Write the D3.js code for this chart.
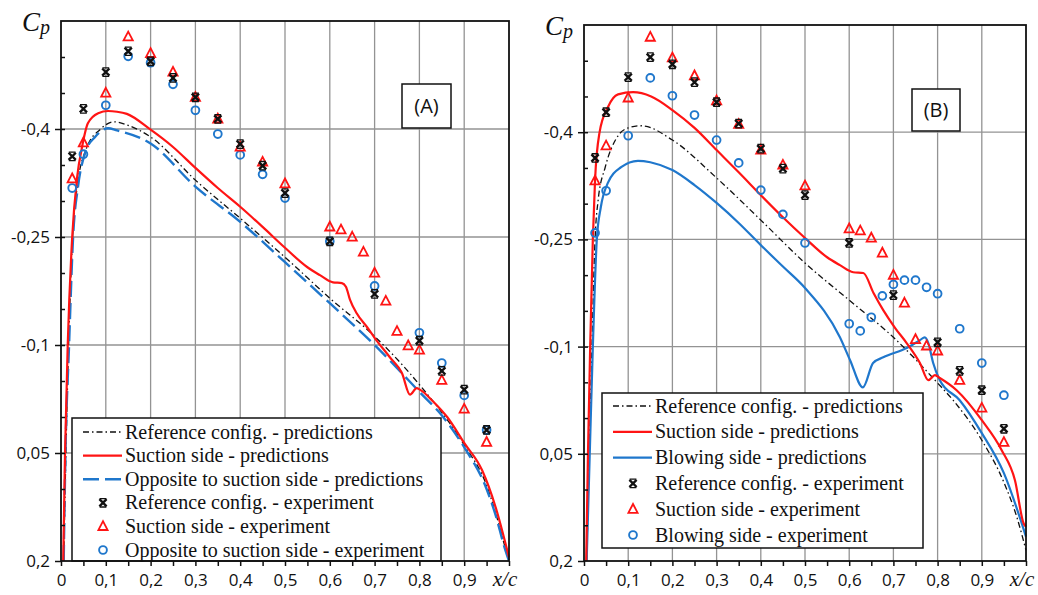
<!DOCTYPE html>
<html>
<head>
<meta charset="utf-8">
<script src="https://cdn.jsdelivr.net/npm/d3@7"></script>
<style>
    body { margin: 0; background: #fff; }
    svg { display: block; }
</style>
</head>
<body>
<div id="chart-area"></div>
<script>
const width = 1038, height = 595;

// Axis ticks
const yMajor = [-0.4, -0.25, -0.1, 0.05, 0.2];
const yLabels = ["-0,4", "-0,25", "-0,1", "0,05", "0,2"];
const xMajor = [0, 0.1, 0.2, 0.3, 0.4, 0.5, 0.6, 0.7, 0.8, 0.9];
const xLabels = ["0", "0,1", "0,2", "0,3", "0,4", "0,5", "0,6", "0,7", "0,8", "0,9"];

// Experiment stations
const xRef = [0.025, 0.05, 0.1, 0.15, 0.2, 0.25, 0.3, 0.35, 0.4, 0.45, 0.5, 0.6, 0.7, 0.8, 0.85, 0.9, 0.95];
const xDense = [0.025, 0.05, 0.1, 0.15, 0.2, 0.25, 0.3, 0.35, 0.4, 0.45, 0.5, 0.6, 0.625, 0.65, 0.675, 0.7, 0.725, 0.75, 0.775, 0.8, 0.85, 0.9, 0.95];

// Panel A - experiment
const aRefExp = [-0.362, -0.428, -0.479, -0.508, -0.494, -0.471, -0.444, -0.414, -0.379, -0.349, -0.311, -0.244, -0.171, -0.106, -0.064, -0.038, 0.018];
const aSucExp = [-0.331, -0.381, -0.45, -0.528, -0.505, -0.479, -0.444, -0.414, -0.375, -0.354, -0.324, -0.264, -0.26, -0.25, -0.229, -0.2, -0.161, -0.119, -0.099, -0.093, -0.051, -0.011, 0.035];
const aOppExp = [-0.318, -0.365, -0.433, -0.501, -0.492, -0.462, -0.426, -0.393, -0.364, -0.337, -0.304, -0.244, -0.182, -0.117, -0.075, -0.03, 0.018];

// Panel A - predictions [x/c, Cp]
const aRefPred = [[0.006, 0.2], [0.011, 0.05], [0.017, -0.1], [0.026, -0.25], [0.036, -0.319], [0.058, -0.375], [0.087, -0.399], [0.117, -0.41], [0.15, -0.405], [0.2, -0.389], [0.3, -0.329], [0.4, -0.276], [0.5, -0.222], [0.6, -0.165], [0.7, -0.112], [0.8, -0.045], [0.9, 0.039], [0.95, 0.095], [0.97, 0.133], [0.99, 0.178], [1.0, 0.2]];
const aSucPred = [[0.005, 0.2], [0.009, 0.05], [0.015, -0.1], [0.025, -0.25], [0.036, -0.333], [0.047, -0.375], [0.06, -0.408], [0.083, -0.422], [0.105, -0.425], [0.125, -0.424], [0.147, -0.421], [0.2, -0.399], [0.25, -0.375], [0.3, -0.346], [0.35, -0.318], [0.4, -0.292], [0.45, -0.264], [0.5, -0.235], [0.55, -0.208], [0.578, -0.197], [0.607, -0.187], [0.627, -0.186], [0.636, -0.181], [0.645, -0.163], [0.66, -0.144], [0.683, -0.125], [0.7, -0.11], [0.734, -0.083], [0.761, -0.061], [0.779, -0.031], [0.794, -0.04], [0.801, -0.038], [0.83, -0.022], [0.862, 0.0], [0.9, 0.036], [0.94, 0.074], [0.97, 0.125], [1.0, 0.195]];
const aOppPred = [[0.006, 0.2], [0.01, 0.05], [0.018, -0.1], [0.027, -0.25], [0.038, -0.32], [0.054, -0.367], [0.076, -0.389], [0.105, -0.401], [0.125, -0.398], [0.2, -0.38], [0.3, -0.32], [0.4, -0.271], [0.5, -0.215], [0.6, -0.158], [0.7, -0.1], [0.8, -0.035], [0.853, 0.0], [0.9, 0.042], [0.95, 0.1], [0.97, 0.136], [0.99, 0.181], [1.0, 0.2]];

// Panel B - experiment
const bRefExp = [-0.364, -0.428, -0.477, -0.505, -0.495, -0.47, -0.442, -0.412, -0.377, -0.349, -0.312, -0.245, -0.172, -0.106, -0.066, -0.039, 0.015];
const bSucExp = [-0.332, -0.381, -0.448, -0.533, -0.504, -0.479, -0.444, -0.411, -0.375, -0.354, -0.325, -0.265, -0.262, -0.252, -0.231, -0.2, -0.161, -0.11, -0.101, -0.094, -0.053, -0.014, 0.034];
const bBlowExp = [-0.259, -0.318, -0.395, -0.476, -0.451, -0.424, -0.389, -0.357, -0.319, -0.285, -0.245, -0.132, -0.122, -0.141, -0.171, -0.187, -0.193, -0.193, -0.183, -0.174, -0.125, -0.077, -0.032];

// Panel B - predictions [x/c, Cp]
const bRefPred = [[0.006, 0.2], [0.012, 0.05], [0.018, -0.1], [0.025, -0.25], [0.032, -0.305], [0.048, -0.351], [0.077, -0.395], [0.1, -0.406], [0.13, -0.409], [0.2, -0.389], [0.3, -0.336], [0.4, -0.277], [0.5, -0.217], [0.6, -0.165], [0.7, -0.113], [0.8, -0.049], [0.835, -0.025], [0.9, 0.031], [0.95, 0.09], [0.98, 0.14], [1.0, 0.185]];
const bSucPred = [[0.005, 0.2], [0.009, 0.05], [0.014, -0.1], [0.02, -0.25], [0.025, -0.333], [0.035, -0.399], [0.054, -0.435], [0.077, -0.453], [0.111, -0.456], [0.152, -0.45], [0.2, -0.431], [0.25, -0.406], [0.3, -0.375], [0.35, -0.344], [0.4, -0.312], [0.45, -0.281], [0.5, -0.252], [0.55, -0.225], [0.579, -0.214], [0.609, -0.204], [0.632, -0.203], [0.655, -0.175], [0.677, -0.151], [0.704, -0.126], [0.73, -0.105], [0.76, -0.077], [0.779, -0.053], [0.794, -0.06], [0.805, -0.056], [0.843, -0.039], [0.9, 0.003], [0.945, 0.045], [0.975, 0.087], [0.995, 0.148], [1.0, 0.152]];
const bBlowPred = [[0.006, 0.2], [0.013, 0.05], [0.02, -0.1], [0.029, -0.25], [0.038, -0.295], [0.054, -0.329], [0.084, -0.351], [0.122, -0.36], [0.15, -0.358], [0.2, -0.347], [0.25, -0.326], [0.3, -0.301], [0.35, -0.273], [0.4, -0.242], [0.45, -0.212], [0.5, -0.182], [0.579, -0.113], [0.602, -0.081], [0.631, -0.043], [0.654, -0.077], [0.677, -0.085], [0.73, -0.098], [0.76, -0.109], [0.771, -0.113], [0.779, -0.105], [0.79, -0.077], [0.805, -0.053], [0.85, -0.025], [0.9, 0.021], [0.95, 0.077], [1.0, 0.166]];

const red = "#ff1414", blue = "#1f77cc";

const styles = {
    refLine: {stroke: "#111", width: 1.3, dash: "6,3,1.5,3"},
    sucLine: {stroke: red, width: 2.2, dash: null},
    oppLine: {stroke: blue, width: 2.4, dash: "16,6"},
    blowLine: {stroke: blue, width: 2.2, dash: null}
};

const panels = [
    {
        box: {left: 61, right: 509, top: 21, bottom: 561},
        tag: "(A)", tagBox: {x: 402, y: 84, w: 49, h: 44},
        lines: [[aRefPred, "refLine"], [aOppPred, "oppLine"], [aSucPred, "sucLine"]],
        points: [[xRef, aOppExp, "circle"], [xDense, aSucExp, "triangle"], [xRef, aRefExp, "cross"]],
        legend: {x: 72, y: 418, w: 369, h: 143, row0: 432, step: 23.6},
        names: ["Reference config. - predictions", "Suction side - predictions", "Opposite to suction side - predictions",
            "Reference config. - experiment", "Suction side - experiment", "Opposite to suction side - experiment"],
        legendKeys: ["refLine", "sucLine", "oppLine", "cross", "triangle", "circle"]
    },
    {
        box: {left: 584, right: 1026, top: 25, bottom: 561},
        tag: "(B)", tagBox: {x: 912, y: 89, w: 48, h: 42},
        lines: [[bRefPred, "refLine"], [bBlowPred, "blowLine"], [bSucPred, "sucLine"]],
        points: [[xDense, bBlowExp, "circle"], [xDense, bSucExp, "triangle"], [xRef, bRefExp, "cross"]],
        legend: {x: 602, y: 393, w: 321, h: 155, row0: 406, step: 25.8},
        names: ["Reference config. - predictions", "Suction side - predictions", "Blowing side - predictions",
            "Reference config. - experiment", "Suction side - experiment", "Blowing side - experiment"],
        legendKeys: ["refLine", "sucLine", "blowLine", "cross", "triangle", "circle"]
    }
];

const svg = d3.select("#chart-area").append("svg")
    .attr("width", width)
    .attr("height", height);

svg.append("rect").attr("width", width).attr("height", height).attr("fill", "#fff");

function marker(g, kind) {
    if (kind === "cross") {
        g.append("path")
            .attr("d", "M-3.6,-3.6L3.6,3.6M3.6,-3.6L-3.6,3.6")
            .attr("stroke", "#111").attr("stroke-width", 2.4).attr("fill", "none");
        g.append("path")
            .attr("d", "M-3.4,-4.2H3.4M-3.4,4.2H3.4")
            .attr("stroke", "#111").attr("stroke-width", 1.3).attr("fill", "none");
    } else if (kind === "triangle") {
        g.append("path")
            .attr("d", "M0,-5.2L4.6,3.6L-4.6,3.6Z")
            .attr("stroke", red).attr("stroke-width", 1.8).attr("fill", "none");
    } else {
        g.append("circle")
            .attr("r", 3.9)
            .attr("stroke", blue).attr("stroke-width", 1.9).attr("fill", "none");
    }
}

panels.forEach(p => {
    const b = p.box;
    const x = d3.scaleLinear().domain([0, 1]).range([b.left, b.right]);
    const y = d3.scaleLinear().domain([-0.55, 0.2]).range([b.top, b.bottom]);

    const g = svg.append("g");

    // grid
    g.append("g")
        .selectAll("line.v")
        .data(xMajor.slice(1))
        .join("line")
            .attr("x1", d => x(d)).attr("x2", d => x(d))
            .attr("y1", b.top).attr("y2", b.bottom)
            .attr("stroke", "#939393").attr("stroke-width", 1.3);
    g.append("g")
        .selectAll("line.h")
        .data(yMajor.slice(0, -1))
        .join("line")
            .attr("x1", b.left).attr("x2", b.right)
            .attr("y1", d => y(d)).attr("y2", d => y(d))
            .attr("stroke", "#939393").attr("stroke-width", 1.3);

    // predictions
    const line = d3.line()
        .x(d => x(d[0]))
        .y(d => y(d[1]))
        .curve(d3.curveMonotoneX);

    p.lines.forEach(([data, key]) => {
        const s = styles[key];
        g.append("path")
            .attr("d", line(data))
            .attr("fill", "none")
            .attr("stroke", s.stroke)
            .attr("stroke-width", s.width)
            .attr("stroke-dasharray", s.dash)
            .attr("stroke-linejoin", "round");
    });

    // experiment
    p.points.forEach(([xs, vals, kind]) => {
        g.append("g")
            .selectAll("g")
            .data(vals)
            .join("g")
                .attr("transform", (d, i) => `translate(${x(xs[i])},${y(d)})`)
                .each(function () { marker(d3.select(this), kind); });
    });

    // legend
    const L = p.legend;
    const lg = g.append("g");
    lg.append("rect")
        .attr("x", L.x).attr("y", L.y).attr("width", L.w).attr("height", L.h)
        .attr("fill", "#fff").attr("stroke", "#111").attr("stroke-width", 1.5);
    p.names.forEach((name, i) => {
        const cy = L.row0 + i * L.step;
        const key = p.legendKeys[i];
        if (styles[key]) {
            const s = styles[key];
            lg.append("line")
                .attr("x1", L.x + 11).attr("x2", L.x + 50)
                .attr("y1", cy).attr("y2", cy)
                .attr("stroke", s.stroke).attr("stroke-width", s.width)
                .attr("stroke-dasharray", s.dash);
        } else {
            const m = lg.append("g").attr("transform", `translate(${L.x + 31},${cy})`);
            marker(m, key);
        }
        lg.append("text")
            .attr("x", L.x + 53).attr("y", cy).attr("dy", "0.33em")
            .style("font", "20px 'Liberation Serif', 'Times New Roman', serif")
            .attr("fill", "#111")
            .text(name);
    });

    // tag box
    const T = p.tagBox;
    g.append("rect")
        .attr("x", T.x).attr("y", T.y).attr("width", T.w).attr("height", T.h)
        .attr("fill", "#fff").attr("stroke", "#111").attr("stroke-width", 1.5);
    g.append("text")
        .attr("x", T.x + T.w / 2).attr("y", T.y + T.h / 2).attr("dy", "0.36em")
        .attr("text-anchor", "middle")
        .style("font", "20px 'Open Sans', sans-serif")
        .attr("fill", "#111")
        .text(p.tag);

    // axes
    const tickFont = g => g.selectAll("text")
        .style("font", "17px 'Open Sans', sans-serif")
        .attr("fill", "#111");

    g.append("g")
        .attr("transform", `translate(${b.left},0)`)
        .call(d3.axisLeft(y).tickValues(yMajor).tickSize(6).tickPadding(5).tickFormat((d, i) => yLabels[i]))
        .call(g => g.select(".domain").remove())
        .call(g => g.selectAll("line").attr("stroke", "#111").attr("stroke-width", 1.5))
        .call(tickFont);

    g.append("g")
        .attr("transform", `translate(${b.left},0)`)
        .call(d3.axisRight(y).tickValues(d3.range(-0.5, 0.2, 0.05)).tickSize(4).tickFormat(""))
        .call(g => g.select(".domain").remove())
        .call(g => g.selectAll("line").attr("stroke", "#111").attr("stroke-width", 1.5));

    g.append("g")
        .attr("transform", `translate(0,${b.bottom})`)
        .call(d3.axisBottom(x).tickValues(d3.range(0, 1.001, 0.05)).tickSize(5).tickPadding(8)
            .tickFormat(d => {
                const i = xMajor.findIndex(v => Math.abs(v - d) < 1e-6);
                return i < 0 ? "" : xLabels[i];
            }))
        .call(g => g.select(".domain").remove())
        .call(g => g.selectAll("line").attr("stroke", "#111").attr("stroke-width", 1.5))
        .call(tickFont);

    // frame
    g.append("rect")
        .attr("x", b.left).attr("y", b.top)
        .attr("width", b.right - b.left).attr("height", b.bottom - b.top)
        .attr("fill", "none").attr("stroke", "#111").attr("stroke-width", 1.8);

    // axis titles
    const cp = g.append("text")
        .attr("x", b.left - 39).attr("y", b.top + 10)
        .style("font", "italic 27px 'Liberation Serif', 'Times New Roman', serif")
        .attr("fill", "#111");
    cp.append("tspan").text("C");
    cp.append("tspan").attr("dy", 3).style("font-size", "20px").text("p");

    g.append("text")
        .attr("x", b.right - 4).attr("y", b.bottom + 25)
        .attr("text-anchor", "middle")
        .style("font", "italic 21px 'Liberation Serif', 'Times New Roman', serif")
        .attr("fill", "#111")
        .text("x/c");
});
</script>
</body>
</html>
